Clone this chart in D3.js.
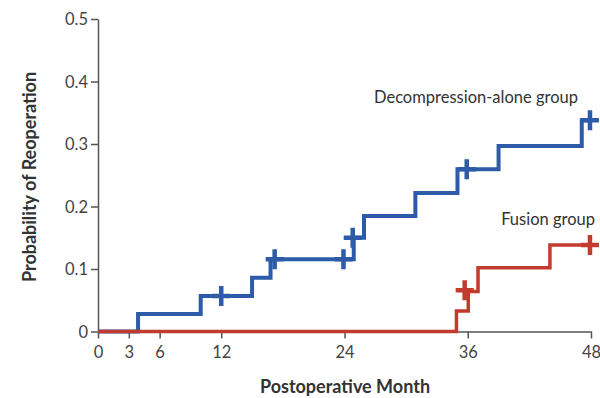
<!DOCTYPE html>
<html>
<head>
<meta charset="utf-8">
<script src="https://cdn.jsdelivr.net/npm/d3@7"></script>
<style>
  body { margin: 0; background: #fff; }
  svg { display: block; font-family: Lato, "Open Sans", sans-serif; }
</style>
</head>
<body>
<svg width="600" height="398"></svg>
<script>
// step curves: [month, probability] after each step
const decompSteps = [[0, 0], [3.9, 0.028], [10.0, 0.057], [15.0, 0.086], [16.8, 0.1155],
  [24.9, 0.150], [25.9, 0.185], [30.9, 0.2216], [35.0, 0.2595], [39.0, 0.297], [47.1, 0.338], [48, 0.338]];
const decompCensor = [[12.0, 0.057], [17.2, 0.1155], [23.9, 0.1155], [24.8, 0.150], [35.9, 0.2595], [47.9, 0.338]];
const fusionSteps = [[0, 0], [34.9, 0.033], [36.05, 0.064], [37.0, 0.102], [44.0, 0.1385], [48, 0.1385]];
const fusionCensor = [[35.7, 0.066], [47.9, 0.1385]];
const xTicks = [0, 3, 6, 12, 24, 36, 48];
const yTicks = [0, 0.1, 0.2, 0.3, 0.4, 0.5];

const blue = '#2d5ba8', red = '#c33b2e', axisColor = '#555';

let svg = d3.select('svg');
let x = d3.scaleLinear().domain([0, 48]).range([98, 591]);
let y = d3.scaleLinear().domain([0, 0.5]).range([331.5, 19]);

// axes
let xAxis = svg.append('g')
    .attr('transform', `translate(0,${y(0)})`)
    .call(d3.axisBottom(x).tickValues(xTicks).tickSize(7).tickSizeOuter(0).tickFormat(d3.format('d')));
let yAxis = svg.append('g')
    .attr('transform', `translate(${x(0)},0)`)
    .call(d3.axisLeft(y).tickValues(yTicks).tickSize(7).tickSizeOuter(0)
        .tickFormat(d => d === 0 ? '0' : d3.format('.1f')(d)));

[xAxis, yAxis].forEach(a => {
    a.select('.domain').attr('stroke', axisColor).attr('stroke-width', 1.5);
    a.selectAll('.tick line').attr('stroke', axisColor).attr('stroke-width', 1.5);
    a.selectAll('.tick text').attr('fill', '#444').style('font-size', '16.5px')
        .style('font-family', 'Lato, sans-serif');
});
xAxis.selectAll('.tick text').attr('dy', '1.0em');
yAxis.selectAll('.tick text').attr('x', -10).attr('dy', '0.35em');

// step lines
let line = d3.line().x(d => x(d[0])).y(d => y(d[1])).curve(d3.curveStepAfter);

function drawSeries(steps, censor, color, width) {
    svg.append('path')
        .datum(steps)
        .attr('d', line)
        .attr('fill', 'none')
        .attr('stroke', color)
        .attr('stroke-width', width)
        .attr('stroke-linejoin', 'miter');

    svg.append('g')
        .selectAll('path')
        .data(censor)
        .enter()
        .append('path')
        .attr('d', d => {
            let cx = x(d[0]), cy = y(d[1]);
            return `M${cx - 9},${cy}H${cx + 9}M${cx},${cy - 10}V${cy + 10}`;
        })
        .attr('stroke', color)
        .attr('stroke-width', 4.5);
}

drawSeries(decompSteps, decompCensor, blue, 4);
drawSeries(fusionSteps, fusionCensor, red, 3.5);

// series labels
svg.append('text')
    .attr('x', 578).attr('y', 103)
    .attr('text-anchor', 'end')
    .attr('fill', '#333')
    .style('font-size', '16.5px')
    .text('Decompression-alone group');
svg.append('text')
    .attr('x', 595).attr('y', 225)
    .attr('text-anchor', 'end')
    .attr('fill', '#333')
    .style('font-size', '16.5px')
    .text('Fusion group');

// axis titles
svg.append('text')
    .attr('x', 345).attr('y', 393)
    .attr('text-anchor', 'middle')
    .attr('fill', '#333')
    .style('font-size', '18px')
    .style('font-weight', 'bold')
    .text('Postoperative Month');
svg.append('text')
    .attr('transform', 'translate(36,177) rotate(-90)')
    .attr('text-anchor', 'middle')
    .attr('fill', '#333')
    .style('font-size', '18px')
    .style('font-weight', 'bold')
    .text('Probability of Reoperation');
</script>
</body>
</html>
